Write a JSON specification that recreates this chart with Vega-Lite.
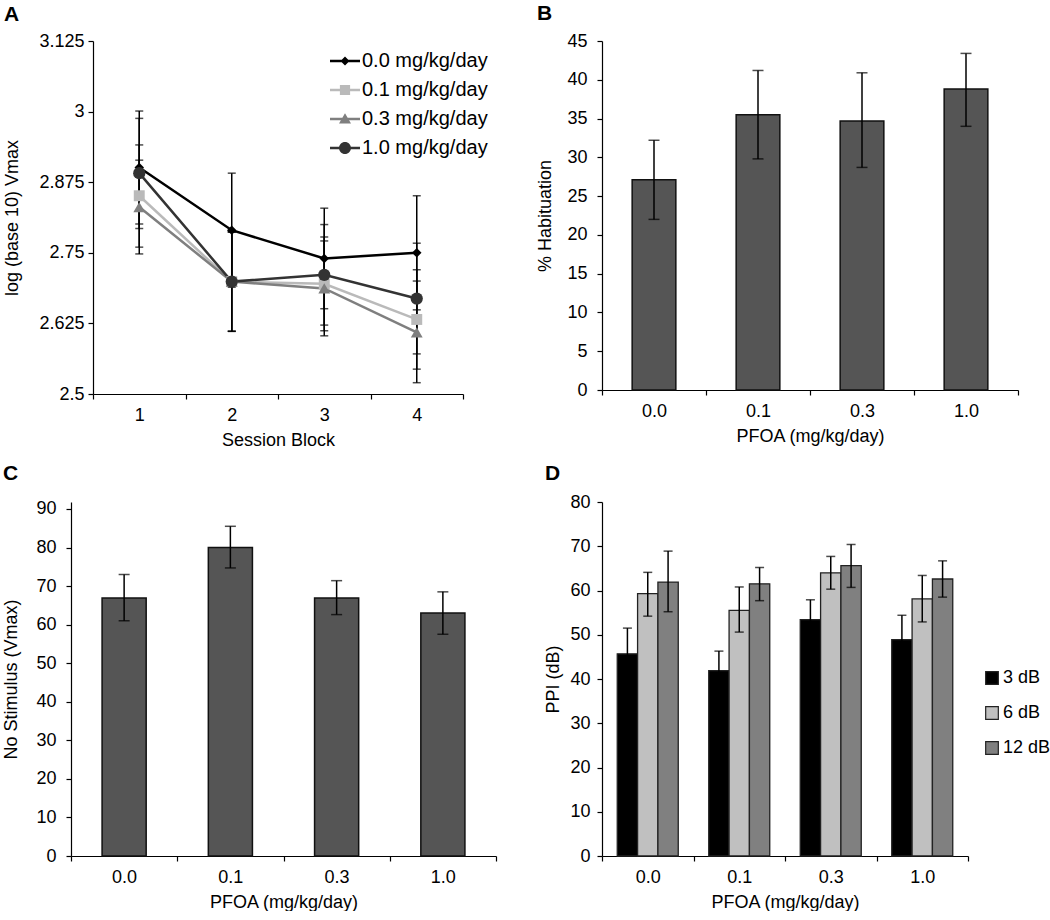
{
  "$schema": "https://vega.github.io/schema/vega-lite/v6.json",
  "padding": {"left": 2, "top": 3, "right": 0, "bottom": 0},
  "background": "white",
  "columns": 2,
  "spacing": {"row": 13, "column": 39},
  "resolve": {"scale": {"color": "independent", "xOffset": "independent"}, "legend": {"color": "independent"}},
  "config": {
    "view": {"stroke": null},
    "font": "Liberation Sans",
    "axis": {
      "domainColor": "#000", "domainWidth": 1.2, "tickColor": "#000", "tickWidth": 1.2, "tickSize": 5,
      "labelColor": "#000", "labelFontSize": 18, "labelFont": "Liberation Sans",
      "titleColor": "#000", "titleFontSize": 18, "titleFontWeight": "normal", "titleFont": "Liberation Sans",
      "grid": false
    },
    "axisX": {"labelAngle": 0, "labelPadding": 7, "titlePadding": 7, "tickBand": "extent"},
    "title": {"fontSize": 21, "fontWeight": "bold", "anchor": "start", "color": "#000", "font": "Liberation Sans", "frame": "bounds"},
    "legend": {"labelFont": "Liberation Sans", "labelFontSize": 18, "labelColor": "#000"}
  },
  "concat": [
    {
      "width": 392, "height": 353,
      "title": {"text": "A", "offset": 7},
      "data": {"values": [
        {"session": "1", "dose": "0.0 mg/kg/day", "mean": 2.901, "lo": 2.801, "hi": 3.001},
        {"session": "2", "dose": "0.0 mg/kg/day", "mean": 2.790, "lo": 2.689, "hi": 2.891},
        {"session": "3", "dose": "0.0 mg/kg/day", "mean": 2.740, "lo": 2.651, "hi": 2.829},
        {"session": "4", "dose": "0.0 mg/kg/day", "mean": 2.750, "lo": 2.649, "hi": 2.851},
        {"session": "1", "dose": "0.1 mg/kg/day", "mean": 2.851, "lo": 2.760, "hi": 2.941},
        {"session": "2", "dose": "0.1 mg/kg/day", "mean": 2.699, "lo": 2.611, "hi": 2.787},
        {"session": "3", "dose": "0.1 mg/kg/day", "mean": 2.695, "lo": 2.612, "hi": 2.778},
        {"session": "4", "dose": "0.1 mg/kg/day", "mean": 2.632, "lo": 2.544, "hi": 2.720},
        {"session": "1", "dose": "0.3 mg/kg/day", "mean": 2.831, "lo": 2.748, "hi": 2.914},
        {"session": "2", "dose": "0.3 mg/kg/day", "mean": 2.699, "lo": 2.611, "hi": 2.787},
        {"session": "3", "dose": "0.3 mg/kg/day", "mean": 2.687, "lo": 2.603, "hi": 2.771},
        {"session": "4", "dose": "0.3 mg/kg/day", "mean": 2.609, "lo": 2.520, "hi": 2.700},
        {"session": "1", "dose": "1.0 mg/kg/day", "mean": 2.891, "lo": 2.793, "hi": 2.988},
        {"session": "2", "dose": "1.0 mg/kg/day", "mean": 2.699, "lo": 2.611, "hi": 2.787},
        {"session": "3", "dose": "1.0 mg/kg/day", "mean": 2.711, "lo": 2.622, "hi": 2.800},
        {"session": "4", "dose": "1.0 mg/kg/day", "mean": 2.669, "lo": 2.571, "hi": 2.767}
      ]},
      "encoding": {
        "x": {"field": "session", "type": "ordinal", "title": "Session Block",
              "scale": {"type": "band", "range": [22, 392], "paddingInner": 0, "paddingOuter": 0}},
        "y": {"field": "mean", "type": "quantitative", "title": "log (base 10) Vmax",
              "scale": {"domain": [2.5, 3.125], "zero": false, "nice": false},
              "axis": {"values": [2.5, 2.625, 2.75, 2.875, 3, 3.125], "format": ".4~g", "labelPadding": 4, "titlePadding": 17, "offset": -22}}
      },
      "layer": [
        {
          "mark": {"type": "rule", "color": "#000", "strokeWidth": 1.5},
          "encoding": {"y": {"field": "lo", "type": "quantitative"}, "y2": {"field": "hi"}}
        },
        {
          "mark": {"type": "tick", "color": "#000", "thickness": 1.5, "size": 8},
          "encoding": {"y": {"field": "lo", "type": "quantitative"}}
        },
        {
          "mark": {"type": "tick", "color": "#000", "thickness": 1.5, "size": 8},
          "encoding": {"y": {"field": "hi", "type": "quantitative"}}
        },
        {
          "mark": {"type": "line", "strokeWidth": 2.5},
          "encoding": {
            "color": {"field": "dose", "type": "nominal",
                      "scale": {"domain": ["0.0 mg/kg/day", "0.1 mg/kg/day", "0.3 mg/kg/day", "1.0 mg/kg/day"],
                                "range": ["#000000", "#bababa", "#7f7f7f", "#333333"]},
                      "legend": {"orient": "none", "legendX": 259, "legendY": 5, "title": null,
                                 "symbolSize": 900, "labelOffset": 2, "rowPadding": 4, "labelFontSize": 20,
                                 "encode": {"symbols": {"update": {
                                   "shape": {"signal": "datum.value == '0.0 mg/kg/day' ? 'M-1,-0.09L1,-0.09L1,0.09L-1,0.09ZM0,-0.3L0.3,0L0,0.3L-0.3,0Z' : datum.value == '0.1 mg/kg/day' ? 'M-1,-0.09L1,-0.09L1,0.09L-1,0.09ZM-0.34,-0.34L0.34,-0.34L0.34,0.34L-0.34,0.34Z' : datum.value == '0.3 mg/kg/day' ? 'M-1,-0.09L1,-0.09L1,0.09L-1,0.09ZM0,-0.38L0.4,0.3L-0.4,0.3Z' : 'M-1,-0.09L1,-0.09L1,0.09L-1,0.09ZM-0.4,0A0.4,0.4 0 1,1 0.4,0A0.4,0.4 0 1,1 -0.4,0Z'"},
                                   "fill": {"signal": "datum.value == '0.0 mg/kg/day' ? '#000000' : datum.value == '0.1 mg/kg/day' ? '#bababa' : datum.value == '0.3 mg/kg/day' ? '#7f7f7f' : '#333333'"},
                                   "strokeWidth": {"value": 0},
                                   "opacity": {"value": 1}
                                 }}}}}
          }
        },
        {
          "transform": [{"filter": "datum.dose == '0.0 mg/kg/day'"}],
          "mark": {"type": "point", "shape": "diamond", "size": 90, "filled": true, "opacity": 1, "strokeWidth": 0, "color": "#000000"}
        },
        {
          "transform": [{"filter": "datum.dose == '0.1 mg/kg/day'"}],
          "mark": {"type": "point", "shape": "square", "size": 120, "filled": true, "opacity": 1, "strokeWidth": 0, "color": "#bababa"}
        },
        {
          "transform": [{"filter": "datum.dose == '0.3 mg/kg/day'"}],
          "mark": {"type": "point", "shape": "triangle-up", "size": 140, "filled": true, "opacity": 1, "strokeWidth": 0, "color": "#7f7f7f"}
        },
        {
          "transform": [{"filter": "datum.dose == '1.0 mg/kg/day'"}],
          "mark": {"type": "point", "shape": "circle", "size": 150, "filled": true, "opacity": 1, "strokeWidth": 0, "color": "#333333"}
        }
      ]
    },
    {
      "width": 416, "height": 349,
      "title": {"text": "B", "offset": 8},
      "data": {"values": [
        {"dose": "0.0", "mean": 27.1, "lo": 22.0, "hi": 32.2},
        {"dose": "0.1", "mean": 35.5, "lo": 29.8, "hi": 41.2},
        {"dose": "0.3", "mean": 34.7, "lo": 28.7, "hi": 40.9},
        {"dose": "1.0", "mean": 38.8, "lo": 34.0, "hi": 43.4}
      ]},
      "encoding": {
        "x": {"field": "dose", "type": "nominal", "sort": null, "title": "PFOA (mg/kg/day)",
              "scale": {"paddingInner": 0, "paddingOuter": 0}},
        "y": {"field": "mean", "type": "quantitative", "title": "% Habituation",
              "scale": {"domain": [0, 45], "nice": false},
              "axis": {"values": [0, 5, 10, 15, 20, 25, 30, 35, 40, 45], "labelPadding": 10, "titlePadding": 12}}
      },
      "layer": [
        {"mark": {"type": "bar", "color": "#555555", "stroke": "#111111", "strokeWidth": 1.5, "width": {"band": 0.42}}},
        {
          "mark": {"type": "rule", "color": "#000", "strokeWidth": 1.5},
          "encoding": {"y": {"field": "lo", "type": "quantitative"}, "y2": {"field": "hi"}}
        },
        {
          "mark": {"type": "tick", "color": "#000", "thickness": 1.5, "size": 11},
          "encoding": {"y": {"field": "lo", "type": "quantitative"}}
        },
        {
          "mark": {"type": "tick", "color": "#000", "thickness": 1.5, "size": 11},
          "encoding": {"y": {"field": "hi", "type": "quantitative"}}
        }
      ]
    },
    {
      "width": 425, "height": 354,
      "title": {"text": "C", "offset": 16},
      "data": {"values": [
        {"dose": "0.0", "mean": 66.9, "lo": 61.0, "hi": 73.0},
        {"dose": "0.1", "mean": 80.0, "lo": 74.7, "hi": 85.5},
        {"dose": "0.3", "mean": 66.9, "lo": 62.6, "hi": 71.4},
        {"dose": "1.0", "mean": 63.0, "lo": 57.5, "hi": 68.5}
      ]},
      "encoding": {
        "x": {"field": "dose", "type": "nominal", "sort": null, "title": "PFOA (mg/kg/day)",
              "scale": {"paddingInner": 0, "paddingOuter": 0}},
        "y": {"field": "mean", "type": "quantitative", "title": "No Stimulus (Vmax)",
              "scale": {"domain": [0, 91.8], "nice": false},
              "axis": {"values": [0, 10, 20, 30, 40, 50, 60, 70, 80, 90], "labelPadding": 10, "titlePadding": 15}}
      },
      "layer": [
        {"mark": {"type": "bar", "color": "#555555", "stroke": "#111111", "strokeWidth": 1.5, "width": {"band": 0.415}}},
        {
          "mark": {"type": "rule", "color": "#000", "strokeWidth": 1.5},
          "encoding": {"y": {"field": "lo", "type": "quantitative"}, "y2": {"field": "hi"}}
        },
        {
          "mark": {"type": "tick", "color": "#000", "thickness": 1.5, "size": 11},
          "encoding": {"y": {"field": "lo", "type": "quantitative"}}
        },
        {
          "mark": {"type": "tick", "color": "#000", "thickness": 1.5, "size": 11},
          "encoding": {"y": {"field": "hi", "type": "quantitative"}}
        }
      ]
    },
    {
      "width": 366, "height": 354,
      "title": {"text": "D", "offset": 9},
      "data": {"values": [
        {"dose": "0.0", "level": "3 dB", "mean": 45.7, "lo": 39.9, "hi": 51.5},
        {"dose": "0.0", "level": "6 dB", "mean": 59.3, "lo": 54.2, "hi": 64.1},
        {"dose": "0.0", "level": "12 dB", "mean": 61.9, "lo": 55.2, "hi": 68.9},
        {"dose": "0.1", "level": "3 dB", "mean": 41.9, "lo": 37.5, "hi": 46.3},
        {"dose": "0.1", "level": "6 dB", "mean": 55.5, "lo": 50.6, "hi": 60.8},
        {"dose": "0.1", "level": "12 dB", "mean": 61.5, "lo": 57.7, "hi": 65.2},
        {"dose": "0.3", "level": "3 dB", "mean": 53.4, "lo": 48.9, "hi": 57.9},
        {"dose": "0.3", "level": "6 dB", "mean": 64.0, "lo": 60.3, "hi": 67.7},
        {"dose": "0.3", "level": "12 dB", "mean": 65.6, "lo": 60.7, "hi": 70.4},
        {"dose": "1.0", "level": "3 dB", "mean": 48.9, "lo": 43.4, "hi": 54.4},
        {"dose": "1.0", "level": "6 dB", "mean": 58.1, "lo": 52.9, "hi": 63.4},
        {"dose": "1.0", "level": "12 dB", "mean": 62.6, "lo": 58.5, "hi": 66.7}
      ]},
      "encoding": {
        "x": {"field": "dose", "type": "nominal", "sort": null, "title": "PFOA (mg/kg/day)",
              "scale": {"paddingInner": 0, "paddingOuter": 0}},
        "xOffset": {"field": "level", "type": "nominal",
                    "scale": {"domain": ["3 dB", "6 dB", "12 dB"], "paddingInner": 0, "paddingOuter": 0.75}},
        "y": {"field": "mean", "type": "quantitative", "title": "PPI (dB)",
              "scale": {"domain": [0, 80], "nice": false},
              "axis": {"values": [0, 10, 20, 30, 40, 50, 60, 70, 80], "labelPadding": 7, "titlePadding": 7}}
      },
      "layer": [
        {
          "mark": {"type": "bar", "stroke": "#222222", "strokeWidth": 1.3},
          "encoding": {
            "color": {"field": "level", "type": "nominal",
                      "scale": {"domain": ["3 dB", "6 dB", "12 dB"], "range": ["#000000", "#c0c0c0", "#808080"]},
                      "legend": {"orient": "none", "legendX": 381, "legendY": 167, "title": null,
                                 "symbolType": "square", "symbolSize": 160, "symbolStrokeColor": "#222222",
                                 "symbolStrokeWidth": 1.2, "symbolOpacity": 1, "labelOffset": 2, "rowPadding": 17, "labelFontSize": 18}}
          }
        },
        {
          "mark": {"type": "rule", "color": "#000", "strokeWidth": 1.5},
          "encoding": {"y": {"field": "lo", "type": "quantitative"}, "y2": {"field": "hi"}}
        },
        {
          "mark": {"type": "tick", "color": "#000", "thickness": 1.5, "size": 9},
          "encoding": {"y": {"field": "hi", "type": "quantitative"}}
        },
        {
          "mark": {"type": "tick", "color": "#000", "thickness": 1.5, "size": 9},
          "encoding": {"y": {"field": "lo", "type": "quantitative"}}
        }
      ]
    }
  ]
}
